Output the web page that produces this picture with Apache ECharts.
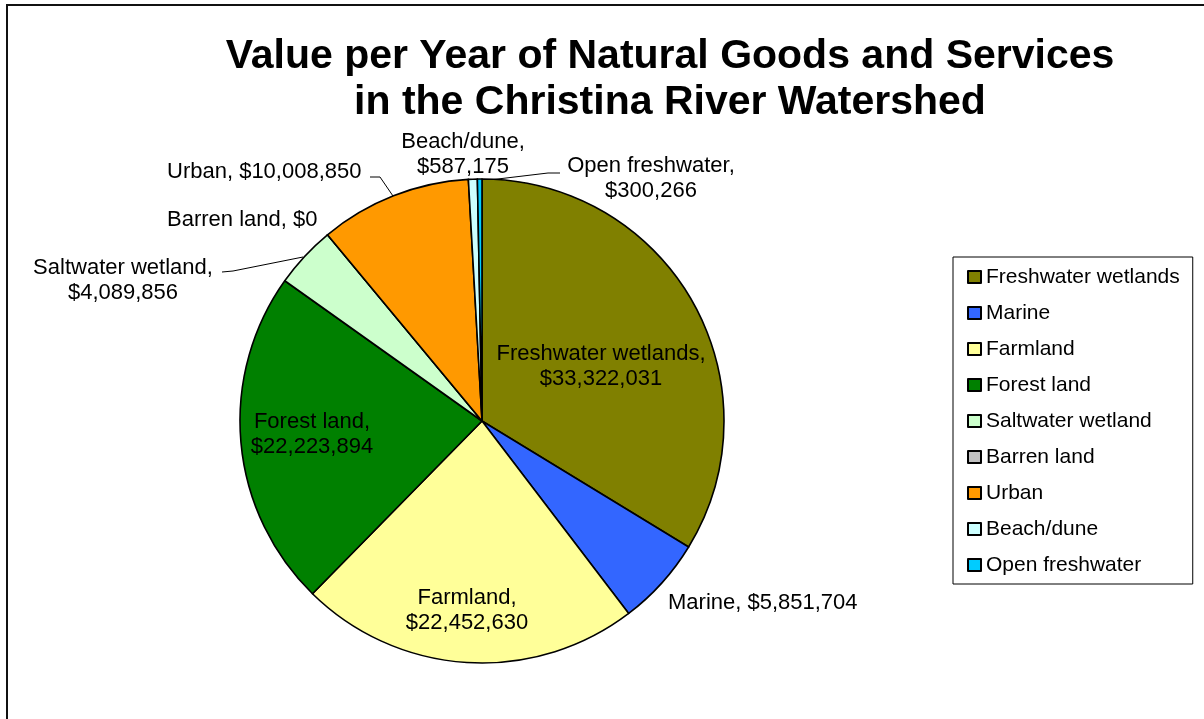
<!DOCTYPE html>
<html><head><meta charset="utf-8">
<script src="https://cdn.jsdelivr.net/npm/echarts@6/dist/echarts.min.js"></script>
<style>html,body{margin:0;padding:0;background:#fff}#c{width:1204px;height:719px}</style>
</head><body><div id="c"></div>
<script>
const titleText = 'Value per Year of Natural Goods and Services\nin the Christina River Watershed';
const categories = ['Freshwater wetlands','Marine','Farmland','Forest land','Saltwater wetland','Barren land','Urban','Beach/dune','Open freshwater'];
const values = [33322031,5851704,22452630,22223894,4089856,0,10008850,587175,300266];
const colors = ['#808000','#3366FF','#FFFF99','#008000','#CCFFCC','#C0C0C0','#FF9900','#CCFFFF','#00CCFF'];
const labelWrap = [true,false,true,true,true,false,false,true,true];
// label placement: [x, y, align]
const labelPos = [[601,366,'center'],[668,603,'left'],[467,610,'center'],[312,434,'center'],[123,280,'center'],[167,220,'left'],[167,172,'left'],[463,154,'center'],[651,178,'center']];
const labelLines = [null,null,null,null,[[222,272],[233,271],[303,257]],null,[[370,177],[380,177],[393,196]],null,[[481,181],[548,173],[560,173]]];

const FONT = "'Liberation Sans', Arial, sans-serif";
const fmt = v => '$' + v.toLocaleString('en-US');
const data = categories.map((n,i)=>({
  name:n, value:values[i],
  itemStyle:{color:colors[i]},
  labelLine:{show: !!labelLines[i]}
}));

const chart = echarts.init(document.getElementById('c'), null, {renderer:'canvas'});
chart.setOption({
  backgroundColor:'#fff',
  animation:false,
  title:{
    text:titleText, left:670, top:34, textAlign:'center', padding:0,
    textStyle:{fontFamily:FONT, fontSize:41, fontWeight:'bold', color:'#000', lineHeight:46}
  },
  graphic:[{type:'rect', shape:{x:7,y:5,width:1400,height:900}, style:{fill:'none', stroke:'#111', lineWidth:2}, silent:true}],
  legend:{
    orient:'vertical', left:953, top:257,
    padding:[9,13,8,14], itemGap:14, itemWidth:13, itemHeight:12,
    icon:'rect', borderColor:'#000', borderWidth:1,
    textStyle:{fontFamily:FONT, fontSize:21, color:'#000', lineHeight:22},
    data:categories
  },
  series:[{
    type:'pie', center:[482,421], radius:242, startAngle:90, clockwise:true,
    avoidLabelOverlap:false, minAngle:0, stillShowZeroSum:true,
    itemStyle:{borderColor:'#000', borderWidth:1.6},
    label:{show:true, position:'outside', fontFamily:FONT, fontSize:22, color:'#000', lineHeight:25,
      formatter:p=>p.name + ',' + (labelWrap[p.dataIndex]?'\n':' ') + fmt(p.value)},
    labelLine:{lineStyle:{color:'#000', width:1}, length:10, length2:10},
    labelLayout:function(p){
      const lp = labelPos[p.dataIndex];
      const r = {x:lp[0], y:lp[1], align:lp[2], verticalAlign:'middle'};
      if (labelLines[p.dataIndex]) r.labelLinePoints = labelLines[p.dataIndex];
      return r;
    },
    emphasis:{disabled:true},
    data:data
  }]
});
</script></body></html>
